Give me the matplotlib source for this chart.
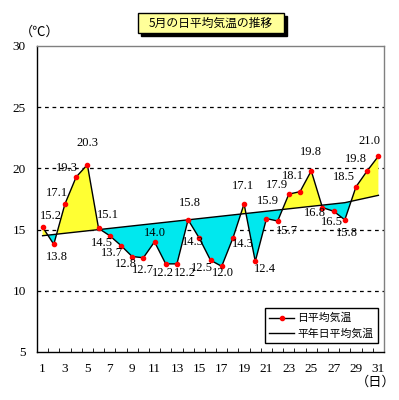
import numpy as np
import matplotlib
matplotlib.use("Agg")
import matplotlib.pyplot as plt
from matplotlib.patches import Rectangle

plt.rcParams['font.family'] = ['Liberation Serif', 'Noto Sans CJK JP', 'DejaVu Sans']

days = list(range(1, 32))
temp = [15.2, 13.8, 17.1, 19.3, 20.3, 15.1, 14.5, 13.7, 12.8, 12.7,
        14.0, 12.2, 12.2, 15.8, 14.3, 12.5, 12.0, 14.3, 17.1, 12.4,
        15.9, 15.7, 17.9, 18.1, 19.8, 16.8, 16.5, 15.8, 18.5, 19.8, 21.0]
normal = [14.5, 14.6, 14.7, 14.8, 14.9, 15.0, 15.1, 15.2, 15.3, 15.4,
          15.5, 15.6, 15.7, 15.8, 15.9, 16.0, 16.1, 16.2, 16.3, 16.4,
          16.5, 16.6, 16.7, 16.8, 16.9, 17.0, 17.1, 17.2, 17.4, 17.6, 17.8]
xticklabels = [str(d) for d in range(1, 32, 2)]

# label offsets in pixels (dx right, dy down)
offs = [(8, -11), (3, 13), (-8, -11), (-9, -9), (0, -22), (9, -13), (-8, 7),
        (-9, 7), (-6, 7), (0, 12), (0, -9), (-3, 9), (8, 9), (2, -17),
        (-6, 4), (-9, 8), (1, 7), (10, 6), (-1, -18), (10, 8), (1, -18),
        (9, 10), (-12, -9), (-7, -16), (0, -19), (-8, 5), (-2, 11), (2, 13),
        (-12, -10), (-11, -12), (-9, -15)]

fig = plt.figure(figsize=(3.99, 4.0), dpi=100)
ax = fig.add_axes([37/399, 48/400, 347/399, 306/400])

x = np.array(days, dtype=float)
t = np.array(temp)
n = np.array(normal)
ax.fill_between(x, t, n, where=t >= n, interpolate=True, color='#ffff33', lw=0, zorder=1)
ax.fill_between(x, t, n, where=t <= n, interpolate=True, color='#00e8ee', lw=0, zorder=1)
ax.plot(x, n, color='black', lw=1, zorder=2)
ax.plot(x, t, color='black', lw=1, zorder=3)
ax.plot(x, t, 'o', color='red', ms=3, mec='red', zorder=4)

for d, v, (dx, dy) in zip(days, temp, offs):
    ax.annotate(f'{v:.1f}', (d, v), xytext=(dx, -dy), textcoords='offset pixels',
                ha='center', va='center', fontsize=9, zorder=5)

for yv in [10, 15, 20, 25]:
    ax.axhline(yv, color='black', lw=0.9, ls=(0, (3, 3)), zorder=0.5)

ax.set_xlim(0.5, 31.5)
ax.set_ylim(5, 30)
ax.set_xticks(range(1, 32, 2))
ax.set_xticklabels(xticklabels, fontsize=9.5)
ax.set_xticks(np.arange(1.5, 31, 1), minor=True)
ax.tick_params(axis='x', which='major', length=0, pad=8)
ax.tick_params(axis='x', which='minor', direction='in', length=3, color='black')
ax.set_yticks(range(5, 31, 5))
ax.tick_params(axis='y', length=0, labelsize=9.5, pad=8)

ax.spines['top'].set_color('#808080')
ax.spines['right'].set_color('#808080')
for s in ax.spines.values():
    s.set_linewidth(1)

# legend
h_t = ax.plot([], [], color='black', lw=1, marker='o', ms=3, mfc='red', mec='red')[0]
h_n = ax.plot([], [], color='black', lw=1)[0]
leg = ax.legend([h_t, h_n], ['日平均気温', '平年日平均気温'], loc='lower right',
                bbox_to_anchor=(1.0 - 6/347, 9/306), fancybox=False, framealpha=1,
                edgecolor='black', prop={'family': 'Noto Sans CJK JP', 'size': 7.8},
                handlelength=2.3, borderpad=0.4, labelspacing=0.45, handletextpad=0.3,
                borderaxespad=0)
leg.get_frame().set_linewidth(1)

fig.text(40/399, 1 - 32/400, '（℃）', fontsize=9.5, ha='center', va='center',
         family=['Noto Sans CJK JP', 'DejaVu Sans'])
fig.text(376/399, 1 - 382/400, '（日）', fontsize=9.5, ha='center', va='center',
         family=['Noto Sans CJK JP', 'DejaVu Sans'])

# title box with shadow
bx, by, bw, bh = 138/399, 1 - 33/400, 146/399, 20/400
fig.patches.append(Rectangle((bx + 3/399, by - 3/400), bw, bh, transform=fig.transFigure,
                             facecolor='black', edgecolor='black', zorder=1))
fig.patches.append(Rectangle((bx, by), bw, bh, transform=fig.transFigure,
                             facecolor='#ffff99', edgecolor='black', lw=1, zorder=2))
fig.text(bx + bw/2, by + bh/2, '5月の日平均気温の推移', fontsize=8.5, ha='center', va='center',
         family=['Noto Sans CJK JP', 'DejaVu Sans'], zorder=3)

fig.savefig('out.png', dpi=100)
